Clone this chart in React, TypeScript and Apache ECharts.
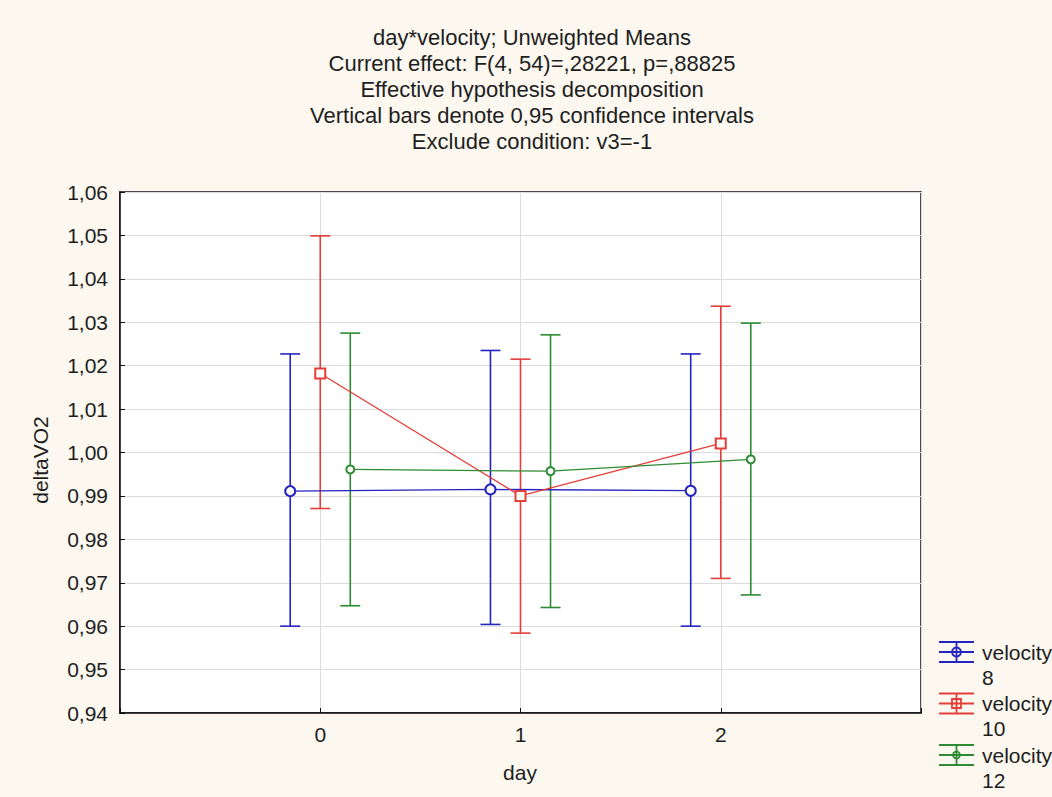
import React, { useEffect, useRef } from "react";
import * as echarts from "echarts";

// ---- data ----
const days = [0, 1, 2];
const seriesNames = ["8", "10", "12"];
const v8Mean = [0.9911, 0.9915, 0.9912];
const v8Low = [0.96, 0.9604, 0.96];
const v8High = [1.0227, 1.0235, 1.0227];
const v10Mean = [1.0182, 0.99, 1.0021];
const v10Low = [0.9871, 0.9584, 0.971];
const v10High = [1.0499, 1.0215, 1.0337];
const v12Mean = [0.9961, 0.9957, 0.9984];
const v12Low = [0.9647, 0.9643, 0.9672];
const v12High = [1.0275, 1.0271, 1.0298];
const titleLines = [
  "day*velocity; Unweighted Means",
  "Current effect: F(4, 54)=,28221, p=,88825",
  "Effective hypothesis decomposition",
  "Vertical bars denote 0,95 confidence intervals",
  "Exclude condition: v3=-1",
];

const FONT = "'Liberation Sans', Arial, sans-serif";
const colors = ["#2424C0", "#E43E3A", "#2E8B34"];
const offsets = [-0.15, 0, 0.15];
const symbols = ["emptyCircle", "emptyRect", "emptyCircle"];
const symbolSizes = [10, 10, 8];

export default function App() {
  const ref = useRef<HTMLDivElement>(null);
  useEffect(() => {
    document.body.style.margin = "0";
    const chart = echarts.init(ref.current!, undefined, { renderer: "svg" });
    const means = [v8Mean, v10Mean, v12Mean];
    const lows = [v8Low, v10Low, v12Low];
    const highs = [v8High, v10High, v12High];

    const series: any[] = [];
    for (let s = 0; s < 3; s++) {
      const color = colors[s];
      series.push({
        type: "custom",
        name: "err" + s,
        z: 3,
        silent: true,
        encode: { x: 0, y: [1, 2] },
        data: days.map((d, i) => [d + offsets[s], lows[s][i], highs[s][i]]),
        renderItem: (params: any, api: any) => {
          const x = api.value(0);
          const pLo = api.coord([x, api.value(1)]);
          const pHi = api.coord([x, api.value(2)]);
          const hw = 10;
          const st = { stroke: color, lineWidth: 1.6 };
          return {
            type: "group",
            children: [
              { type: "line", shape: { x1: pLo[0], y1: pLo[1], x2: pHi[0], y2: pHi[1] }, style: st },
              { type: "line", shape: { x1: pLo[0] - hw, y1: pLo[1], x2: pLo[0] + hw, y2: pLo[1] }, style: st },
              { type: "line", shape: { x1: pHi[0] - hw, y1: pHi[1], x2: pHi[0] + hw, y2: pHi[1] }, style: st },
            ],
          };
        },
      });
      series.push({
        type: "line",
        name: "velocity " + seriesNames[s],
        z: 4,
        data: days.map((d, i) => [d + offsets[s], means[s][i]]),
        symbol: symbols[s],
        symbolSize: symbolSizes[s],
        lineStyle: { color, width: 1.3 },
        itemStyle: { color, borderColor: color, borderWidth: 2 },
      });
    }

    const graphic: any[] = [];
    titleLines.forEach((t, i) => {
      graphic.push({
        type: "text",
        x: 532,
        y: 37 + i * 26.2,
        style: {
          text: t,
          fill: "#1e1e1e",
          font: `22px ${FONT}`,
          textAlign: "center",
          textVerticalAlign: "middle",
        },
      });
    });
    graphic.push({
      type: "text",
      x: 40,
      y: 460,
      rotation: Math.PI / 2,
      style: { text: "deltaVO2", fill: "#1e1e1e", font: `21px ${FONT}`, textAlign: "center", textVerticalAlign: "middle" },
    });
    graphic.push({
      type: "text",
      x: 520,
      y: 772,
      style: { text: "day", fill: "#1e1e1e", font: `21px ${FONT}`, textAlign: "center", textVerticalAlign: "middle" },
    });
    // legend
    for (let s = 0; s < 3; s++) {
      const y0 = 652 + s * 51.5;
      const c = colors[s];
      const st = { stroke: c, lineWidth: 1.8 };
      const xc = 956.5;
      graphic.push({ type: "line", shape: { x1: 939, y1: y0 - 10, x2: 974, y2: y0 - 10 }, style: st });
      graphic.push({ type: "line", shape: { x1: 939, y1: y0, x2: 974, y2: y0 }, style: st });
      graphic.push({ type: "line", shape: { x1: 939, y1: y0 + 10, x2: 974, y2: y0 + 10 }, style: st });
      graphic.push({ type: "line", shape: { x1: xc, y1: y0 - 10, x2: xc, y2: y0 + 10 }, style: st });
      if (s === 1) {
        graphic.push({ type: "rect", shape: { x: xc - 4.5, y: y0 - 4.5, width: 9, height: 9 }, style: { stroke: c, fill: "none", lineWidth: 1.8 } });
      } else {
        graphic.push({ type: "circle", shape: { cx: xc, cy: y0, r: s === 0 ? 4.5 : 3.5 }, style: { stroke: c, fill: "none", lineWidth: 1.8 } });
      }
      graphic.push({
        type: "text",
        x: 982,
        y: y0,
        style: { text: "velocity", fill: "#1e1e1e", font: `21px ${FONT}`, textVerticalAlign: "middle" },
      });
      graphic.push({
        type: "text",
        x: 982,
        y: y0 + 25,
        style: { text: seriesNames[s], fill: "#1e1e1e", font: `21px ${FONT}`, textVerticalAlign: "middle" },
      });
    }

    chart.setOption({
      animation: false,
      backgroundColor: "#FCF8F0",
      grid: {
        left: 120,
        top: 192,
        width: 801,
        height: 521,
        show: true,
        backgroundColor: "#ffffff",
        borderColor: "#111",
        borderWidth: 1.5,
      },
      xAxis: {
        type: "value",
        min: -1,
        max: 3,
        interval: 1,
        axisLine: { show: true, onZero: false, lineStyle: { color: "#111", width: 1.5 } },
        axisTick: { show: true, inside: true, length: 5, lineStyle: { color: "#111" } },
        axisLabel: {
          color: "#1e1e1e",
          fontSize: 21,
          fontFamily: FONT,
          margin: 11,
          formatter: (v: number) => (v >= 0 && v <= 2 ? String(v) : ""),
        },
        splitLine: { show: true, lineStyle: { color: "#dcdcdc", width: 1 } },
      },
      yAxis: {
        type: "value",
        min: 0.94,
        max: 1.06,
        interval: 0.01,
        axisLine: { show: true, onZero: false, lineStyle: { color: "#111", width: 1.5 } },
        axisTick: { show: true, inside: true, length: 5, lineStyle: { color: "#111" } },
        axisLabel: {
          color: "#1e1e1e",
          fontSize: 21,
          fontFamily: FONT,
          margin: 12,
          formatter: (v: number) => v.toFixed(2).replace(".", ","),
        },
        splitLine: { show: true, lineStyle: { color: "#dcdcdc", width: 1 } },
      },
      graphic,
      series,
    });
    return () => chart.dispose();
  }, []);
  return <div ref={ref} style={{ width: 1052, height: 797 }} />;
}
